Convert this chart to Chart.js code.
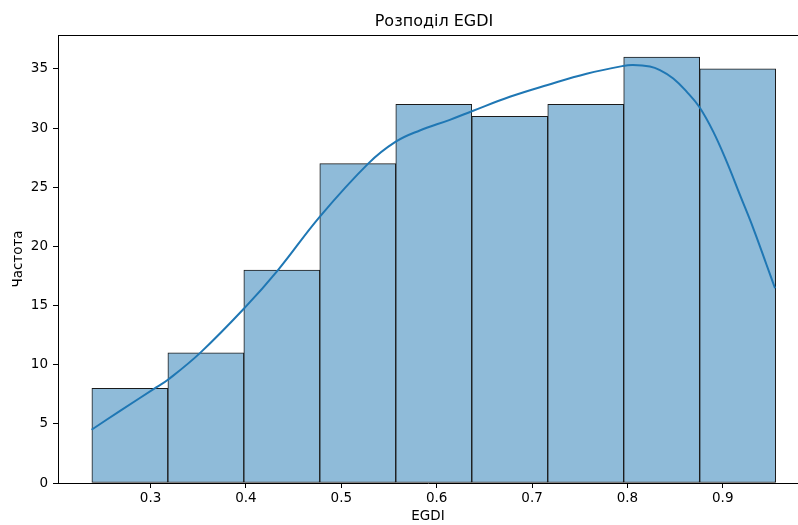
<!DOCTYPE html>
<html>
<head>
<meta charset="utf-8">
<script src="https://cdn.jsdelivr.net/npm/chart.js@4/dist/chart.umd.min.js"></script>
<style>
html,body{margin:0;padding:0;background:#fff;overflow:hidden;}
#wrap{width:798px;height:525px;}
</style>
</head>
<body>
<div id="wrap"><canvas id="c" width="798" height="525"></canvas></div>
<script>
// Histogram bin edges (EGDI) and counts
const binEdges = [0.2384, 0.3181, 0.3978, 0.4774, 0.5571, 0.6368, 0.7165, 0.7961, 0.8758, 0.9555];
const counts = [8, 11, 18, 27, 32, 31, 32, 36, 35];
// KDE curve
const kdeX = [0.2381, 0.268, 0.3063, 0.3178, 0.352, 0.3986, 0.4336, 0.4773, 0.5282, 0.5571, 0.5823, 0.6138, 0.6376, 0.6767, 0.7163, 0.7572, 0.7953, 0.8058, 0.8236, 0.8341, 0.8481, 0.8621, 0.8753, 0.89, 0.9041, 0.918, 0.932, 0.946, 0.9548];
const kdeY = [4.5, 6.1, 8.1, 8.7, 11.0, 14.8, 18.0, 22.5, 27.0, 28.85, 29.8, 30.7, 31.45, 32.65, 33.65, 34.6, 35.25, 35.33, 35.2, 34.9, 34.2, 33.08, 31.8, 29.7, 27.16, 24.35, 21.53, 18.43, 16.46];
const xTicks = [0.3, 0.4, 0.5, 0.6, 0.7, 0.8, 0.9];
const yTicks = [0, 5, 10, 15, 20, 25, 30, 35];
const chartTitle = 'Розподіл EGDI';
const xTitle = 'EGDI';
const yTitle = 'Частота';

const barData = counts.map((c, i) => ({x: (binEdges[i] + binEdges[i + 1]) / 2, y: c}));
const lineData = kdeX.map((x, i) => ({x: x, y: kdeY[i]}));

const FONT = "'DejaVu Sans', sans-serif";

const frame = {
  id: 'frame',
  afterDraw(chart) {
    const {ctx, chartArea} = chart;
    ctx.save();
    ctx.strokeStyle = '#000';
    ctx.lineWidth = 1;
    ctx.beginPath();
    ctx.moveTo(chartArea.left, Math.round(chartArea.top) + 0.5);
    ctx.lineTo(chartArea.right, Math.round(chartArea.top) + 0.5);
    ctx.stroke();
    // title centred over the (cropped) plot area
    ctx.fillStyle = '#000';
    ctx.font = "16px 'DejaVu Sans', sans-serif";
    ctx.textAlign = 'center';
    ctx.textBaseline = 'middle';
    ctx.fillText(chartTitle, (chartArea.left + chartArea.right) / 2 + 6, 21.5);
    ctx.restore();
  }
};

new Chart(document.getElementById('c'), {
  type: 'bar',
  data: {
    datasets: [
      {
        type: 'line',
        data: lineData,
        borderColor: '#1f77b4',
        borderWidth: 2,
        pointRadius: 0,
        fill: false,
        tension: 0.4,
        order: 0
      },
      {
        type: 'bar',
        data: barData,
        backgroundColor: 'rgb(143,187,217)',
        borderColor: '#1a1a1a',
        borderWidth: 1,
        borderSkipped: false,
        barPercentage: 1,
        categoryPercentage: 1,
        order: 1
      }
    ]
  },
  options: {
    responsive: false,
    animation: false,
    events: [],
    layout: {padding: {left: 0, right: 0, top: 35, bottom: 0}},
    plugins: {
      legend: {display: false},
      tooltip: {enabled: false},
      title: {display: false}
    },
    scales: {
      x: {
        type: 'linear',
        offset: false,
        min: 0.2029,
        max: 0.9789,
        afterFit(s) { s.height = 42; },
        afterBuildTicks(s) { s.ticks = xTicks.map(v => ({value: v})); },
        ticks: {
          color: '#000',
          font: {family: FONT, size: 13.5},
          padding: 2,
          maxRotation: 0,
          callback: v => v.toFixed(1)
        },
        grid: {display: true, drawOnChartArea: false, drawTicks: true, tickLength: 5, tickColor: '#000', offset: false},
        border: {display: true, color: '#000', width: 1},
        title: {
          display: true,
          text: xTitle,
          color: '#000',
          font: {family: FONT, size: 13.5},
          padding: {top: 0, bottom: 0}
        }
      },
      y: {
        type: 'linear',
        min: 0,
        max: 37.87,
        afterFit(s) { s.width = 58; },
        afterBuildTicks(s) { s.ticks = yTicks.map(v => ({value: v})); },
        ticks: {
          color: '#000',
          font: {family: FONT, size: 13.5},
          padding: 5
        },
        grid: {display: true, drawOnChartArea: false, drawTicks: true, tickLength: 5, tickColor: '#000'},
        border: {display: true, color: '#000', width: 1},
        title: {
          display: true,
          text: yTitle,
          color: '#000',
          font: {family: FONT, size: 13.5},
          padding: {top: 10, bottom: 0}
        }
      }
    }
  },
  plugins: [frame]
});
</script>
</body>
</html>
